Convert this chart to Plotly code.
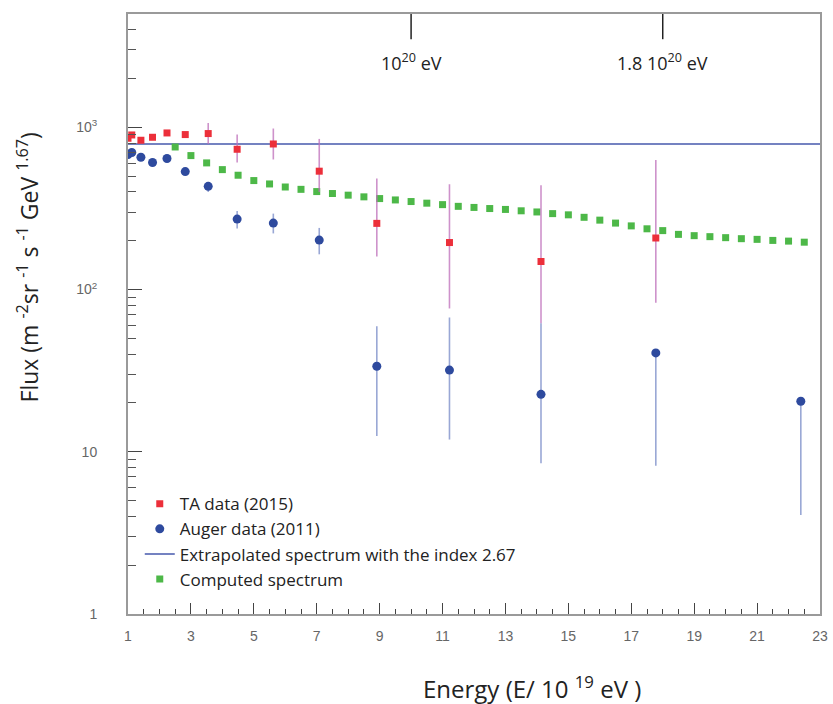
import plotly.graph_objects as go

# ---------------- data ----------------
ta_x = [1.0, 1.12, 1.41, 1.78, 2.24, 2.82, 3.55, 4.47, 5.62, 7.08, 8.91, 11.22, 14.13, 17.78]
ta_y = [857, 898, 833, 869, 924, 903, 916, 733, 790, 537, 256, 195, 149, 208]
ta_hi = [857, 898, 833, 869, 924, 903, 1064, 903, 984, 849, 484, 446, 440, 630]
ta_lo = [857, 898, 833, 869, 924, 903, 790, 607, 634, 400, 160, 76.5, 62, 83]

au_x = [1.0, 1.12, 1.41, 1.78, 2.24, 2.82, 3.55, 4.47, 5.62, 7.08, 8.91, 11.22, 14.13, 17.78, 22.39]
au_y = [680, 700, 654, 607, 643, 534, 433, 272, 257, 202, 33.7, 31.9, 22.6, 40.7, 20.5]
au_hi = [680, 700, 654, 607, 643, 534, 461, 305, 294, 240, 59.5, 67.3, 62, 40.7, 20.5]
au_lo = [680, 700, 654, 607, 643, 534, 400, 238, 222, 165, 12.5, 11.9, 8.5, 8.2, 4.07]

ext_x = [1, 23]
ext_y = [790, 790]

comp_x = [2.5, 3.0, 3.5, 4.0, 4.5, 5.0, 5.5, 6.0, 6.5, 7.0, 7.5, 8.0, 8.5, 9.0, 9.5,
          10.0, 10.5, 11.0, 11.5, 12.0, 12.5, 13.0, 13.5, 14.0, 14.5, 15.0, 15.5,
          16.0, 16.5, 17.0, 17.5, 18.0, 18.5, 19.0, 19.5, 20.0, 20.5, 21.0, 21.5,
          22.0, 22.5]
comp_y = [757, 670, 604, 549, 507, 470, 448, 429, 415, 402, 391, 382, 373, 364, 357,
          349, 341, 334, 326, 321, 316, 312, 306, 301, 294, 289, 279,
          268, 257, 247, 237, 231, 219, 215, 212, 209, 206, 204, 201,
          199, 196]

x_ticks = [1, 3, 5, 7, 9, 11, 13, 15, 17, 19, 21, 23]
y_ticks = [1, 10, 100, 1000]
y_ticktext = ["1", "10", "10<sup>2</sup>", "10<sup>3</sup>"]
y_minor = [2, 3, 4, 5, 6, 7, 8, 9, 20, 30, 40, 50, 60, 70, 80, 90,
           200, 300, 400, 500, 600, 700, 800, 900, 2000, 3000, 4000]
top_marks = [10, 18]
top_labels = ["10<sup>20</sup> eV", "1.8 10<sup>20</sup> eV"]

TEXT_FONT = "Open Sans"

fig = go.Figure()

fig.add_trace(go.Scatter(
    x=ext_x, y=ext_y, mode="lines", name="Extrapolated spectrum with the index 2.67",
    line=dict(color="#4658ad", width=1.5), legendrank=3, legendgroup="c"))

fig.add_trace(go.Scatter(
    x=comp_x, y=comp_y, mode="markers", name="Computed spectrum",
    marker=dict(symbol="square", size=7, color="#4db848"), legendrank=4, legendgroup="d"))

fig.add_trace(go.Scatter(
    x=ta_x, y=ta_y, mode="markers", showlegend=False, hoverinfo="skip",
    marker=dict(size=0.1, color="rgba(0,0,0,0)"),
    error_y=dict(type="data", symmetric=False,
                 array=[h - v for h, v in zip(ta_hi, ta_y)],
                 arrayminus=[v - l for v, l in zip(ta_y, ta_lo)],
                 color="rgba(190,110,185,0.75)", thickness=1.6, width=0)))

fig.add_trace(go.Scatter(
    x=au_x, y=au_y, mode="markers", name="Auger data (2011)",
    marker=dict(symbol="circle", size=9, color="#2e4a9e"),
    error_y=dict(type="data", symmetric=False,
                 array=[h - v for h, v in zip(au_hi, au_y)],
                 arrayminus=[v - l for v, l in zip(au_y, au_lo)],
                 color="rgba(110,130,195,0.7)", thickness=1.6, width=0),
    legendrank=2, legendgroup="b"))

fig.add_trace(go.Scatter(
    x=ta_x, y=ta_y, mode="markers", name="TA data (2015)",
    marker=dict(symbol="square", size=7, color="#ec2f3a"), legendrank=1, legendgroup="a"))

shapes = []
annotations = []
for xv, lab in zip(top_marks, top_labels):
    shapes.append(dict(type="line", xref="x", yref="paper", x0=xv, x1=xv, y0=1, y1=0.958,
                       line=dict(color="#222", width=1.5)))
    annotations.append(dict(x=xv, y=0.92, xref="x", yref="paper", text=lab, showarrow=False,
                            font=dict(family=TEXT_FONT, size=18, color="#222"),
                            xanchor="center", yanchor="middle"))

annotations.append(dict(
    x=-0.145, y=0.577, xref="paper", yref="paper", textangle=-90, showarrow=False,
    text="Flux (m <sup>-2</sup>sr <sup>-1</sup> s <sup>-1</sup> GeV <sup>1.67</sup>)",
    font=dict(family=TEXT_FONT, size=23, color="#222"), xanchor="center", yanchor="middle"))
annotations.append(dict(
    x=0.584, y=-0.122, xref="paper", yref="paper", showarrow=False,
    text="Energy (E/ 10 <sup>19</sup> eV )",
    font=dict(family=TEXT_FONT, size=24, color="#222"), xanchor="center", yanchor="middle"))

fig.update_layout(
    width=833, height=704,
    margin=dict(l=128, r=13, t=14, b=90),
    paper_bgcolor="white", plot_bgcolor="white",
    shapes=shapes, annotations=annotations,
    showlegend=True,
    legend=dict(x=0.017, y=0.213, xanchor="left", yanchor="top",
                bgcolor="rgba(0,0,0,0)", borderwidth=0, tracegroupgap=0,
                font=dict(family=TEXT_FONT, size=17, color="#222")),
    xaxis=dict(range=[1, 23], tickmode="array", tickvals=x_ticks,
               showgrid=False, zeroline=False, automargin=False,
               showline=True, linecolor="#9a9a9a", linewidth=2, mirror=True,
               ticks="inside", ticklen=11, tickwidth=1.2, tickcolor="#444",
               ticklabelstandoff=8,
               tickfont=dict(family="Liberation Sans", size=14, color="#666"),
               minor=dict(ticks="inside", ticklen=5, tickwidth=1, tickcolor="#444",
                          dtick=0.5, tick0=1, showgrid=False)),
    yaxis=dict(type="log", range=[0, 3.699], tickmode="array", tickvals=y_ticks,
               ticktext=y_ticktext, showgrid=False, zeroline=False, automargin=False,
               showline=True, linecolor="#9a9a9a", linewidth=2, mirror=True,
               ticks="inside", ticklen=14, tickwidth=1.2, tickcolor="#444",
               ticklabelstandoff=26,
               tickfont=dict(family="Liberation Sans", size=14, color="#666"),
               minor=dict(ticks="inside", ticklen=8, tickwidth=1, tickcolor="#555",
                          tickmode="array", tickvals=y_minor, showgrid=False)),
)

fig.write_html("out.html")
